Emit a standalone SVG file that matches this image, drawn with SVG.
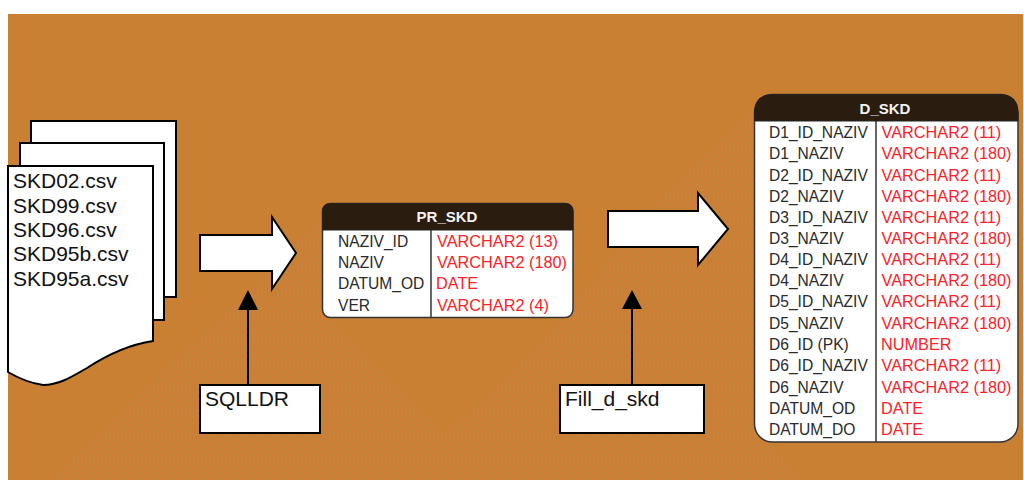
<svg xmlns="http://www.w3.org/2000/svg" width="1024" height="482" viewBox="0 0 1024 482">
  <defs>
    <pattern id="dither" width="4" height="6" patternUnits="userSpaceOnUse">
      <rect width="4" height="6" fill="#c98033"/>
      <rect x="0" y="0" width="1" height="1" fill="#de7434"/>
      <rect x="2" y="0" width="1" height="1" fill="#b58e42"/>
      <rect x="1" y="1" width="1" height="1" fill="#b58e42"/>
      <rect x="3" y="1" width="1" height="1" fill="#de7434"/>
      <rect x="0" y="2" width="1" height="1" fill="#b58e42"/>
      <rect x="2" y="2" width="1" height="1" fill="#e0763a"/>
      <rect x="1" y="3" width="1" height="1" fill="#e0763a"/>
      <rect x="3" y="3" width="1" height="1" fill="#b28c3e"/>
      <rect x="0" y="4" width="1" height="1" fill="#de7434"/>
      <rect x="2" y="4" width="1" height="1" fill="#b28c3e"/>
      <rect x="1" y="5" width="1" height="1" fill="#b58e42"/>
      <rect x="3" y="5" width="1" height="1" fill="#de7434"/>
    </pattern>
  </defs>
  <style>
    .shape { fill: #fff; stroke: #000; stroke-width: 2; }
    .label { font-family: "Liberation Sans", Arial, sans-serif; font-size: 21px; fill: #111; }
    .head { fill: #2a1c0e; stroke: #222; stroke-width: 1; }
    .frame { fill: #fff; stroke: #333; stroke-width: 1.5; }
    .div { stroke: #333; stroke-width: 1.5; }
    .title { font-family: "Liberation Sans", Arial, sans-serif; font-size: 15px; font-weight: bold; fill: #f2f2f2; text-anchor: middle; }
    .col { font-family: "Liberation Sans", Arial, sans-serif; font-size: 15.6px; fill: #2a2a2a; }
    .typ { font-family: "Liberation Sans", Arial, sans-serif; font-size: 16.3px; fill: #f8222a; }
    .link { stroke: #000; stroke-width: 2; fill: none; }
  </style>

  <rect x="0" y="0" width="1024" height="482" fill="#fff"/>
  <rect x="8" y="14" width="1015" height="466" fill="#c98033"/>
  <polygon fill="url(#dither)" points="50,480 335,205 335,323 445,433 540,343 653,205 677,180 723,137 760,100 760,432 805,480"/>

  <g id="files">
    <rect class="shape" x="31" y="121" width="145" height="176"/>
    <rect class="shape" x="20" y="143" width="144" height="177"/>
    <path class="shape" d="M8 166 H153 V341 C133 344 110 353 87 368 C70 378 58 385 43 385 C30 383 18 378 8 372 Z"/>
    <text class="label" x="13" y="188">SKD02.csv</text>
    <text class="label" x="13" y="212.5">SKD99.csv</text>
    <text class="label" x="13" y="236.5">SKD96.csv</text>
    <text class="label" x="13" y="261">SKD95b.csv</text>
    <text class="label" x="13" y="285.5">SKD95a.csv</text>
  </g>

  <g id="connectors">
    <polygon class="shape" points="200,235 272,235 272,217 296,253 272,289 272,271 200,271"/>
    <polygon class="shape" points="608,211 698,211 698,193 728,229 698,265 698,247 608,247"/>
    <line class="link" x1="248" y1="385" x2="248" y2="308"/>
    <polygon fill="#000" points="248,290 258,310 238,310"/>
    <line class="link" x1="632" y1="385" x2="632" y2="307"/>
    <polygon fill="#000" points="632,290 642,309 622,309"/>
  </g>

  <g id="sqlldr">
    <rect class="shape" x="200" y="385" width="120" height="48"/>
    <text class="label" x="205" y="406">SQLLDR</text>
  </g>

  <g id="fill_d_skd">
    <rect class="shape" x="560" y="385" width="144" height="48"/>
    <text class="label" x="565" y="406">Fill_d_skd</text>
  </g>

  <g id="pr_skd">
    <rect class="frame" x="322.5" y="203.5" width="250.500" height="114" rx="8" ry="8"/>
    <path class="head" d="M322.500 230 V211.500 Q322.500 203.500 330.500 203.500 H565 Q573 203.500 573 211.500 V230 Z"/>
    <line class="div" x1="431" y1="230" x2="431" y2="317"/>
    <text class="title" x="447" y="222">PR_SKD</text>
    <text class="col" x="338" y="247">NAZIV_ID</text><text class="typ" x="437" y="247">VARCHAR2 (13)</text>
    <text class="col" x="338" y="268">NAZIV</text><text class="typ" x="437" y="268">VARCHAR2 (180)</text>
    <text class="col" x="338" y="289">DATUM_OD</text><text class="typ" x="436" y="289">DATE</text>
    <text class="col" x="338" y="310.500">VER</text><text class="typ" x="437" y="310.500">VARCHAR2 (4)</text>
  </g>

  <g id="d_skd">
    <rect class="frame" x="754.500" y="94.500" width="263.500" height="347.500" rx="18" ry="18"/>
    <path class="head" d="M754.500 121 V112.500 Q754.500 94.500 772.500 94.500 H1000 Q1018 94.500 1018 112.500 V121 Z"/>
    <line class="div" x1="876" y1="121" x2="876" y2="442"/>
    <text class="title" x="885" y="114">D_SKD</text>
    <text class="col" x="769" y="138">D1_ID_NAZIV</text><text class="typ" x="881.500" y="138">VARCHAR2 (11)</text>
    <text class="col" x="769" y="159">D1_NAZIV</text><text class="typ" x="881.500" y="159">VARCHAR2 (180)</text>
    <text class="col" x="769" y="180.500">D2_ID_NAZIV</text><text class="typ" x="881.500" y="180.500">VARCHAR2 (11)</text>
    <text class="col" x="769" y="201.500">D2_NAZIV</text><text class="typ" x="881.500" y="201.500">VARCHAR2 (180)</text>
    <text class="col" x="769" y="223">D3_ID_NAZIV</text><text class="typ" x="881.500" y="223">VARCHAR2 (11)</text>
    <text class="col" x="769" y="244">D3_NAZIV</text><text class="typ" x="881.500" y="244">VARCHAR2 (180)</text>
    <text class="col" x="769" y="265">D4_ID_NAZIV</text><text class="typ" x="881.500" y="265">VARCHAR2 (11)</text>
    <text class="col" x="769" y="286">D4_NAZIV</text><text class="typ" x="881.500" y="286">VARCHAR2 (180)</text>
    <text class="col" x="769" y="307">D5_ID_NAZIV</text><text class="typ" x="881.500" y="307">VARCHAR2 (11)</text>
    <text class="col" x="769" y="328.500">D5_NAZIV</text><text class="typ" x="881.500" y="328.500">VARCHAR2 (180)</text>
    <text class="col" x="769" y="350">D6_ID (PK)</text><text class="typ" x="881" y="350">NUMBER</text>
    <text class="col" x="769" y="371">D6_ID_NAZIV</text><text class="typ" x="881.500" y="371">VARCHAR2 (11)</text>
    <text class="col" x="769" y="392.500">D6_NAZIV</text><text class="typ" x="881.500" y="392.500">VARCHAR2 (180)</text>
    <text class="col" x="769" y="413.500">DATUM_OD</text><text class="typ" x="881" y="413.500">DATE</text>
    <text class="col" x="769" y="434.500">DATUM_DO</text><text class="typ" x="881" y="434.500">DATE</text>
  </g>
</svg>
